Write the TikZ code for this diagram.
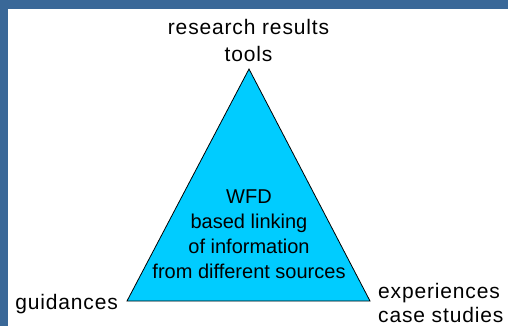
\documentclass[tikz,border=0pt]{standalone}
\usepackage{fontspec}
\setmainfont{Liberation Sans}
\newfontfamily\cornerfont[LetterSpace=4]{Liberation Sans}
\usetikzlibrary{positioning}
\definecolor{frame}{RGB}{58,104,152}
\definecolor{wfd}{RGB}{0,204,255}
\tikzset{%
  frameBar/.style = {fill=frame, draw=none},
  pyramid/.style = {draw=black, fill=wfd, line width=0.8pt, line join=miter},
  cornerLabel/.style = {inner sep=0pt, text=black,
                        font=\cornerfont\fontsize{21}{27}\selectfont},
  centreLabel/.style = {inner sep=0pt, align=center, text=black,
                        font=\fontsize{20}{25}\selectfont}
  }

\begin{document}
\begin{tikzpicture}[x=1pt, y=-1pt]
    \fill[white] (0,0) rectangle (508,326);
    \useasboundingbox (0,0) rectangle (508,326);
    \path[frameBar] (0,0) rectangle (508,9);
    \path[frameBar] (0,0) rectangle (8,326);

    \coordinate (apex)  at (249,69);
    \coordinate (left)  at (127,301);
    \coordinate (right) at (370,301);

    \path[pyramid] (apex) -- (left) -- (right) -- cycle;

    % base anchors sit on the last line of each label
    \node (research) [cornerLabel, align=center, anchor=base] at (248.5,62)
          {research results\\tools};
    \node (guid)     [cornerLabel, anchor=base east] at (118,309) {guidances};
    \node (exp)      [cornerLabel, align=left, anchor=base west,
                      font=\cornerfont\fontsize{21}{24}\selectfont] at (378,322)
          {experiences\\case studies};
    \node (linking)  [centreLabel, anchor=base] at (249,278)
          {WFD\\based linking\\of information\\from different sources};
\end{tikzpicture}
\end{document}
